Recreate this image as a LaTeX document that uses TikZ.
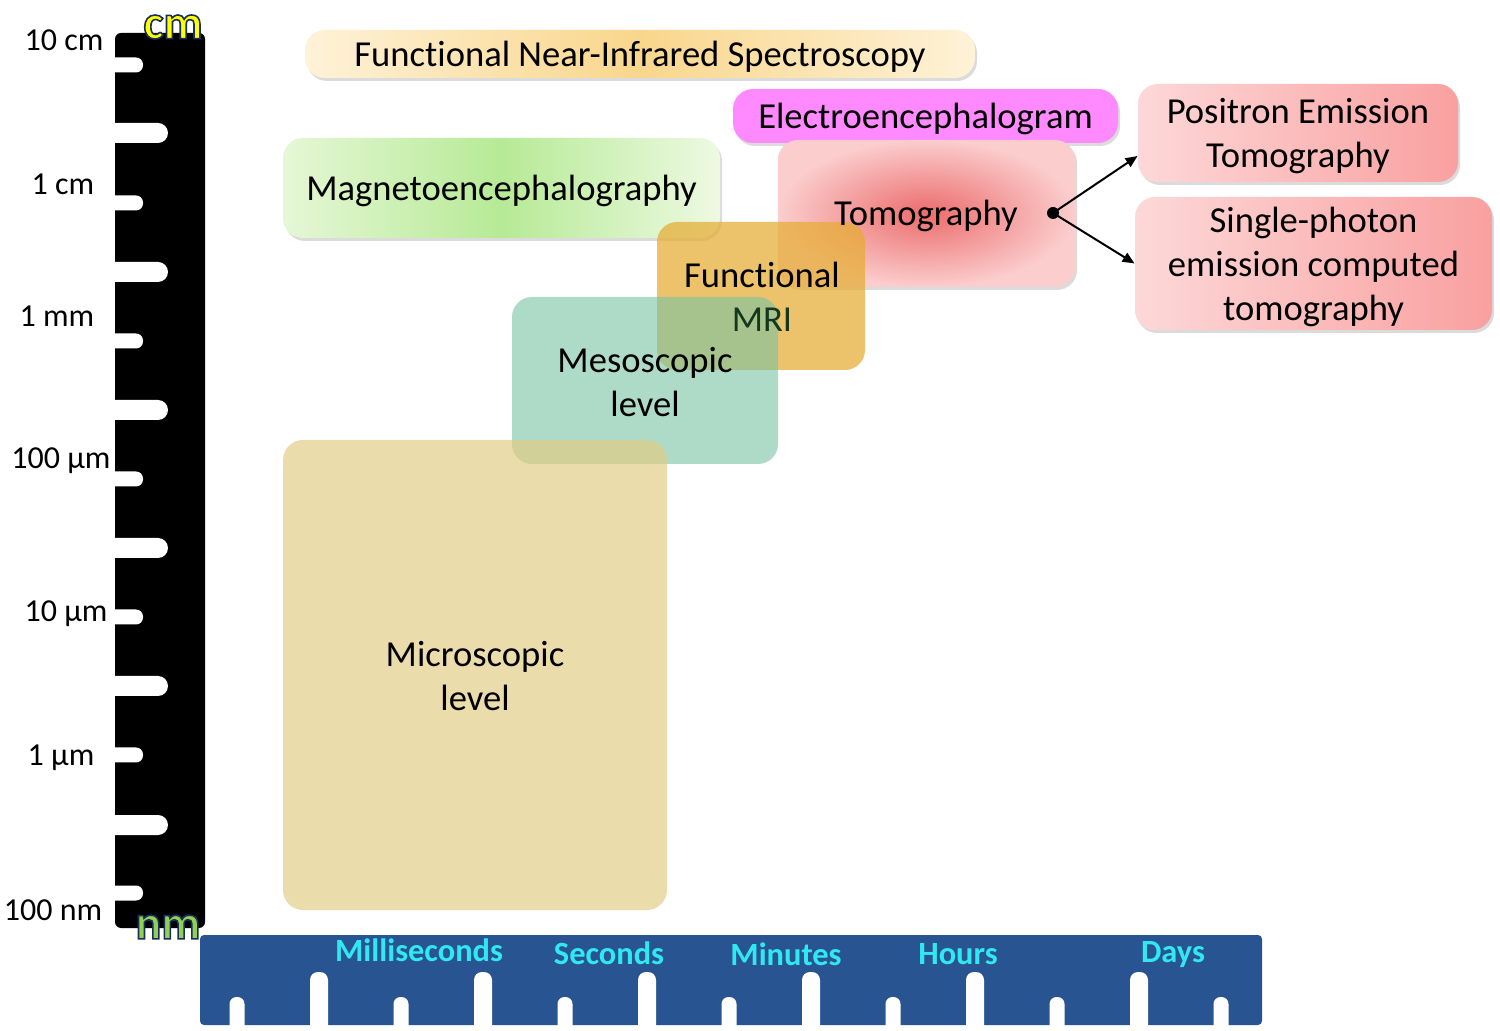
\documentclass[tikz,border=0pt]{standalone}
\usepackage{fontspec}
\setmainfont{Carlito}[Ligatures={NoCommon}]
\usetikzlibrary{shadows,arrows.meta}
\definecolor{barblue}{RGB}{40,85,145}
\definecolor{tcyan}{RGB}{50,232,240}
\definecolor{navy}{RGB}{25,45,95}
\definecolor{cmyel}{RGB}{255,255,0}
\definecolor{nmgreen}{RGB}{146,208,80}
\definecolor{nirsA}{RGB}{254,242,216}
\definecolor{nirsB}{RGB}{249,214,140}
\definecolor{megA}{RGB}{230,247,214}
\definecolor{megB}{RGB}{182,234,150}
\definecolor{eegc}{RGB}{255,138,255}
\definecolor{pinkA}{RGB}{253,216,216}
\definecolor{pinkB}{RGB}{249,160,160}
\definecolor{tomoin}{RGB}{236,108,108}
\definecolor{tomoout}{RGB}{251,205,205}
\definecolor{fmric}{RGB}{230,172,50}
\definecolor{mesoc}{RGB}{120,196,164}
\definecolor{microc}{RGB}{226,204,132}
\definecolor{mrigreen}{RGB}{20,55,30}
\newcommand\bxf{\fontsize{18.3}{22}\selectfont}
\newcommand\axf{\fontsize{16}{19}\selectfont}
\newcommand\outl[1]{\special{pdf:literal direct 2 Tr 0.8 w 0.1 0.18 0.37 RG}#1\special{pdf:literal direct 0 Tr}}
\tikzset{
  box/.style={rounded corners=10pt, inner sep=0pt, align=center, font=\bxf, text=black},
  low/.style={text depth=0pt},
  shad/.style={drop shadow={opacity=0.28, shadow xshift=1pt, shadow yshift=-1.5pt}},
  axlab/.style={font=\axf, text=black, inner sep=0pt},
  tlab/.style={font=\fontsize{16.2}{19}\selectfont\bfseries, text=tcyan, inner sep=0pt},
  unitlab/.style={font=\fontsize{24}{26}\selectfont\bfseries, inner sep=0pt},
  conn/.style={line width=1pt, -{Triangle[length=6pt,width=5pt]}}
}
\begin{document}
\begin{tikzpicture}[x=0.5pt,y=-0.5pt]
\useasboundingbox (0,0) rectangle (1500,1031);
\fill[white] (0,0) rectangle (1500,1031);
% vertical ruler
\fill[black, rounded corners=3pt] (115,33) rectangle (205,928);
\foreach \yy in {65,203,341,479,617,755,893}
  \fill[white, rounded corners=3.5pt] (100,\yy-7.5) rectangle (143,\yy+7.5);
\foreach \yy in {133,272,410,548,686,825}
  \fill[white, rounded corners=5pt] (100,\yy-10) rectangle (168,\yy+10);
% axis labels
\node[axlab] (l10cm) at (64,40) {10 cm};
\node[axlab] (l1cm) at (63,184) {1 cm};
\node[axlab] (l1mm) at (57,316) {1 mm};
\node[axlab] (l100um) at (61,461) {100 µm};
\node[axlab] (l10um) at (66,614) {10 µm};
\node[axlab] (l1um) at (61,758) {1 µm};
\node[axlab] (l100nm) at (53,910) {100 nm};
% time bar
\fill[barblue, rounded corners=2pt] (200,935) rectangle (1262,1025);
\foreach \xx in {319,483,647,811,975,1139}
  \fill[white, rounded corners=4pt] (\xx-9,972) rectangle (\xx+9,1045);
\foreach \xx in {237,401,565,729,893,1057,1221}
  \fill[white, rounded corners=3.5pt] (\xx-7.5,997) rectangle (\xx+7.5,1045);
\node[tlab] (tms) at (419,950) {Milliseconds};
\node[tlab] (tsec) at (609,953) {Seconds};
\node[tlab] (tmin) at (786,954) {Minutes};
\node[tlab] (thr) at (958,954) {Hours};
\node[tlab] (tday) at (1173,955) {Days};
% unit labels with outline
\node[unitlab, text=cmyel] (cmlab) at (173,27) {\outl{cm}};
\node[unitlab, text=nmgreen] (nmlab) at (168,927) {\outl{nm}};
% boxes
\node[box, low, shad, minimum width=335pt, minimum height=24pt,
  left color=nirsA, right color=nirsA, middle color=nirsB] (nirs) at (640,54) {Functional Near-Infrared Spectroscopy};
\node[box, low, shad, minimum width=192.5pt, minimum height=27pt, fill=eegc] (eeg) at (925.5,116) {Electroencephalogram};
\node[box, shad, minimum width=148.5pt, minimum height=73.5pt,
  inner color=tomoin, outer color=tomoout] (tomo) at (926.5,213.5) {};
\node[box, low, shad, minimum width=160pt, minimum height=49pt,
  left color=pinkA, right color=pinkB] (pet) at (1298,133) {Positron Emission\\Tomography};
\node[box, low, shad, minimum width=178.5pt, minimum height=66.5pt,
  left color=pinkA, right color=pinkB] (spect) at (1313.5,263.5) {Single-photon\\emission computed\\tomography};
\node[box, low, shad, minimum width=218.5pt, minimum height=50pt,
  left color=megA, right color=megA!70, middle color=megB] (meg) at (501.5,188) {Magnetoencephalography};
\node[box, minimum width=104pt, minimum height=74pt, fill=fmric, fill opacity=0.72, text opacity=1] (fmri) at (761,296) {};
\node[box, minimum width=133pt, minimum height=83.5pt, fill=mesoc, fill opacity=0.6, text opacity=1] (meso) at (645,380.5) {};
\node[box] (fmrit) at (762,297) {Functional\\{\color{mrigreen}MRI}};
\node[box] (mesot) at (645,382) {Mesoscopic\\level};
\node[box, minimum width=192pt, minimum height=235pt, fill=microc, fill opacity=0.68, text opacity=1] (micro) at (475,675) {};
\node[box] (microt) at (475,676) {Microscopic\\level};
\node[box, low] (tomot) at (926,213) {Tomography};
% connectors
\coordinate (hub) at (1053,213);
\coordinate (petin) at ([yshift=-11.5pt]pet.west);
\fill (hub) circle (3pt);
\draw[conn] (hub) -- (petin);
\draw[conn] (hub) -- (spect.west);
\end{tikzpicture}
\end{document}
